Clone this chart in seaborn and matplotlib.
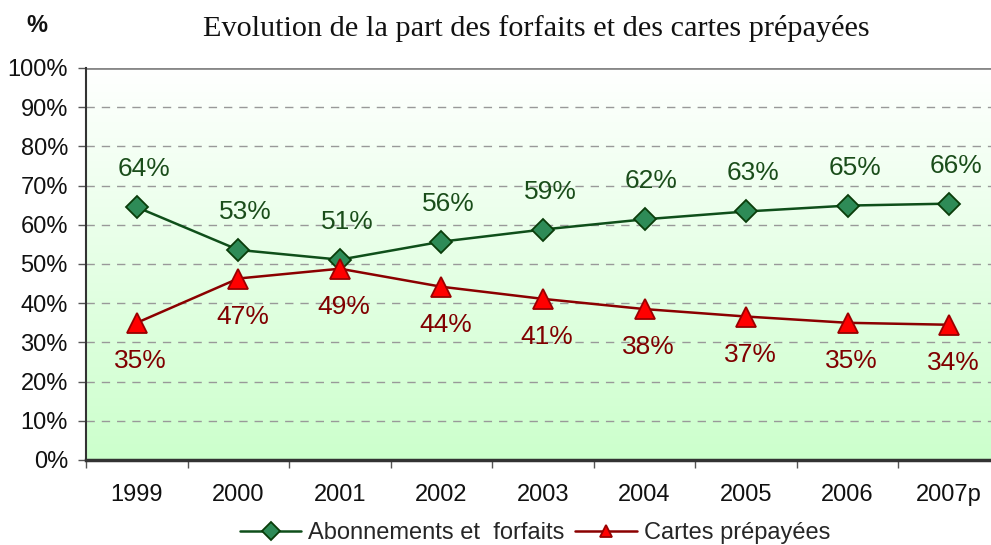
import matplotlib
matplotlib.use("Agg")
import matplotlib.pyplot as plt
import numpy as np
import pandas as pd
import seaborn as sns
from matplotlib.colors import LinearSegmentedColormap

years = ["1999", "2000", "2001", "2002", "2003", "2004", "2005", "2006", "2007p"]
abonnements = [64.5, 53.6, 51.1, 55.7, 58.8, 61.4, 63.4, 64.9, 65.4]
cartes = [35.0, 46.3, 48.8, 44.2, 41.1, 38.5, 36.6, 35.0, 34.5]
abo_labels = ["64%", "53%", "51%", "56%", "59%", "62%", "63%", "65%", "66%"]
cartes_labels = ["35%", "47%", "49%", "44%", "41%", "38%", "37%", "35%", "34%"]
yticks = [0, 10, 20, 30, 40, 50, 60, 70, 80, 90, 100]
ytick_labels = [f"{v}%" for v in yticks]

sns.set_theme(style="white")
plt.rcParams["font.family"] = ["Liberation Sans", "DejaVu Sans"]

W, H = 991, 545
fig = plt.figure(figsize=(W / 100, H / 100), dpi=100)
left, right, top, bottom = 86, 1000, 68, 460
ax = fig.add_axes([left / W, 1 - bottom / H, (right - left) / W, (bottom - top) / H])

df = pd.DataFrame({"year": years * 2,
                   "value": abonnements + cartes,
                   "serie": ["Abonnements et  forfaits"] * len(years) + ["Cartes prépayées"] * len(years)})
df["x"] = list(range(len(years))) * 2

# gradient background
grad = np.linspace(0, 1, 256).reshape(-1, 1)
cmap = LinearSegmentedColormap.from_list("g", ["#ccffcc", "#ffffff"])
ax.imshow(grad, aspect="auto", cmap=cmap, extent=[-0.5, 8.5, 0, 100], origin="lower", zorder=0)

for y in yticks[1:-1]:
    ax.axhline(y, color="#999999", lw=1.0, ls=(0, (6, 5)), zorder=1)
ax.axhline(100, color="#888888", lw=2.0, zorder=1)

green_line = "#0f4f1a"
red_line = "#8b0000"
sns.lineplot(data=df[df.serie == "Abonnements et  forfaits"], x="x", y="value", ax=ax,
             color=green_line, lw=1.8, marker="D", markersize=11, markerfacecolor="#2e8b57",
             markeredgecolor="#0a3d0a", markeredgewidth=1.3, label="Abonnements et  forfaits", zorder=3)
sns.lineplot(data=df[df.serie == "Cartes prépayées"], x="x", y="value", ax=ax,
             color=red_line, lw=1.8, marker="^", markersize=15, markerfacecolor="#ff0000",
             markeredgecolor="#990000", markeredgewidth=1.3, label="Cartes prépayées", zorder=3)

for i, (v, t) in enumerate(zip(abonnements, abo_labels)):
    ax.annotate(t, (i, v), xytext=(7, 38), textcoords="offset pixels", ha="center", va="center",
                fontsize=19, color="#1a4d1a")
for i, (v, t) in enumerate(zip(cartes, cartes_labels)):
    ax.annotate(t, (i, v), xytext=(4, -38), textcoords="offset pixels", ha="center", va="center",
                fontsize=19, color="#800000")

ax.set_xlim(-0.5, 8.5)
ax.set_ylim(0, 100)
ax.set_xticks(range(len(years)))
ax.set_xticklabels(years, fontsize=17, color="#111111")
ax.set_yticks(yticks)
ax.set_yticklabels(ytick_labels, fontsize=17, color="#111111")
ax.set_xlabel("")
ax.set_ylabel("")
ax.tick_params(axis="x", length=0, pad=17)
ax.tick_params(axis="y", length=6, width=1, color="#555555", left=True, pad=7)
ax.set_xticks(np.arange(-0.5, 8.6, 1), minor=True)
ax.tick_params(axis="x", which="minor", length=6, width=1, color="#555555", bottom=True, direction="out")

for s in ["top", "right"]:
    ax.spines[s].set_visible(False)
ax.spines["left"].set_color("#333333")
ax.spines["left"].set_linewidth(1.5)
ax.spines["bottom"].set_color("#333333")
ax.spines["bottom"].set_linewidth(2.5)

leg = ax.legend(loc="center", bbox_to_anchor=(535 / W, 1 - 533 / H), bbox_transform=fig.transFigure,
                ncol=2, frameon=False, fontsize=17, handlelength=2.6, columnspacing=0.45, handletextpad=0.3)
for h in leg.legend_handles:
    h.set_markersize(9)

fig.text(536 / W, 1 - 29 / H, "Evolution de la part des forfaits et des cartes prépayées",
         ha="center", va="center", fontsize=21.8, family=["Liberation Serif", "DejaVu Serif"], color="#111111")
fig.text(37 / W, 1 - 25 / H, "%", ha="center", va="center", fontsize=17, fontweight="bold", color="#111111")

fig.savefig("out.png", dpi=100)
